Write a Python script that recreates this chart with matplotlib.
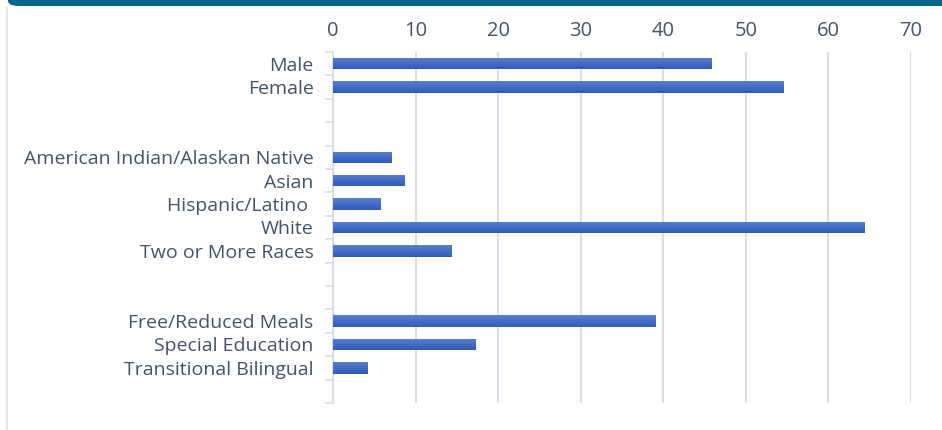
import numpy as np
import matplotlib
matplotlib.use("Agg")
import matplotlib.pyplot as plt
from matplotlib.colors import LinearSegmentedColormap
from matplotlib.patches import FancyBboxPatch
from matplotlib.lines import Line2D

# Categories (blank strings are the gaps between groups)
categories = ['Male', 'Female', '', '',
              'American Indian/Alaskan Native', 'Asian', 'Hispanic/Latino ',
              'White', 'Two or More Races', '', '',
              'Free/Reduced Meals', 'Special Education', 'Transitional Bilingual', '']
values = [45.8, 54.5, 0, 0,
          7.1, 8.6, 5.7, 64.4, 14.3, 0, 0,
          39.1, 17.2, 4.2, 0]
x_ticks = [0, 10, 20, 30, 40, 50, 60, 70]

text_color = '#44546A'
grid_color = '#D9DEE7'

plt.rcParams['font.family'] = ['Open Sans', 'DejaVu Sans']

fig = plt.figure(figsize=(9.42, 4.3), dpi=100)

# top banner and left frame line
fig.patches.append(FancyBboxPatch((8 / 942, 1 - 6 / 430), 1.2, 0.1,
                                  boxstyle='round,pad=0,rounding_size=0.012',
                                  transform=fig.transFigure, facecolor='#00668F',
                                  edgecolor='none', zorder=0))
fig.lines.append(Line2D([6.5 / 942, 6.5 / 942], [0, 1 - 8 / 430],
                        transform=fig.transFigure, color='#E3E6EA', lw=1.5))

ax = fig.add_axes([333 / 942, 1 - 403 / 430, 578 / 942, 351 / 430])

y = np.arange(len(categories))
bars = ax.barh(y, values, height=0.48, color='#3A66C4', zorder=2)

# vertical gradient on each bar
cmap = LinearSegmentedColormap.from_list('bar', ['#5B80CB', '#2E5BBD'])
grad = np.linspace(0, 1, 64).reshape(-1, 1)
for b in bars:
    if b.get_width() <= 0:
        continue
    x0, y0 = b.get_x(), b.get_y()
    w, h = b.get_width(), b.get_height()
    im = ax.imshow(grad, cmap=cmap, aspect='auto', zorder=3,
                   extent=[x0, x0 + w, y0 + h, y0], origin='upper')
    im.set_clip_path(b)

ax.set_xlim(0, 70)
ax.set_ylim(len(categories) - 0.5, -0.5)

ax.xaxis.tick_top()
ax.set_xticks(x_ticks)
ax.tick_params(axis='x', length=0, pad=8, labelsize=14.5, labelcolor=text_color)
ax.grid(axis='x', color=grid_color, lw=1.5, zorder=1)

ax.set_yticks(y)
ax.set_yticklabels(categories)
ax.set_yticks(np.arange(-0.5, len(categories), 1), minor=True)
ax.tick_params(axis='y', which='major', length=0, pad=14, labelsize=14,
               labelcolor=text_color)
ax.tick_params(axis='y', which='minor', length=6, width=1.2, color=grid_color,
               direction='out')

for s in ['top', 'right', 'bottom']:
    ax.spines[s].set_visible(False)
ax.spines['left'].set_color(grid_color)
ax.spines['left'].set_linewidth(1.5)
ax.set_axisbelow(True)

fig.savefig('out.png', dpi=100)
